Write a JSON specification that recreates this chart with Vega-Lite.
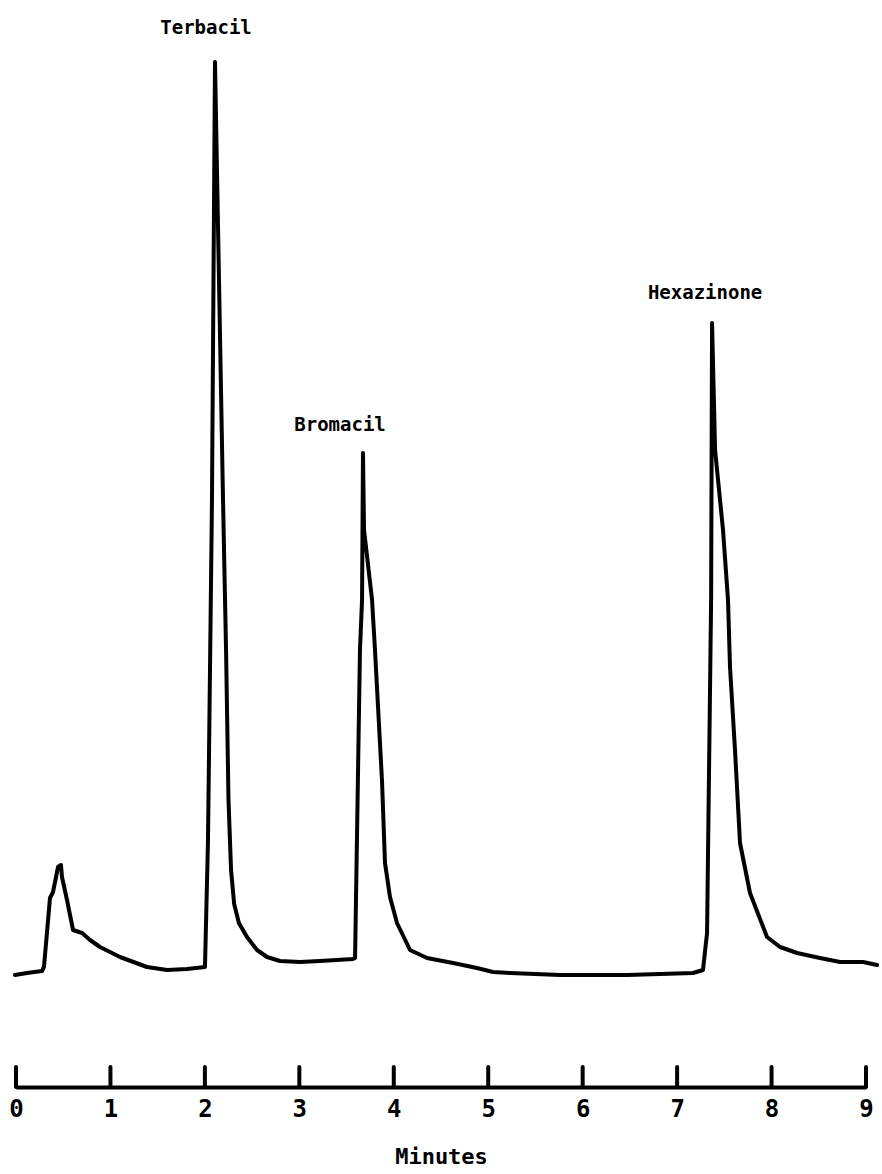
{
  "$schema": "https://vega.github.io/schema/vega-lite/v6.json",
  "width": 850,
  "height": 1087,
  "autosize": {"type": "none"},
  "padding": {"left": 16, "top": 0, "right": 16, "bottom": 87},
  "background": "white",
  "config": {"view": {"stroke": null}, "font": "DejaVu Sans Mono"},
  "datasets": {
    "trace": [
      {"i": 1, "time": -0.011, "signal": 11.2},
      {"i": 2, "time": 0.116, "signal": 11.4},
      {"i": 3, "time": 0.275, "signal": 11.6},
      {"i": 4, "time": 0.296, "signal": 12.0},
      {"i": 5, "time": 0.360, "signal": 18.9},
      {"i": 6, "time": 0.392, "signal": 19.5},
      {"i": 7, "time": 0.445, "signal": 22.0},
      {"i": 8, "time": 0.476, "signal": 22.2},
      {"i": 9, "time": 0.487, "signal": 21.0},
      {"i": 10, "time": 0.540, "signal": 18.7},
      {"i": 11, "time": 0.604, "signal": 15.7},
      {"i": 12, "time": 0.699, "signal": 15.4},
      {"i": 13, "time": 0.784, "signal": 14.7},
      {"i": 14, "time": 0.889, "signal": 14.0},
      {"i": 15, "time": 1.101, "signal": 13.0},
      {"i": 16, "time": 1.387, "signal": 12.0},
      {"i": 17, "time": 1.599, "signal": 11.7},
      {"i": 18, "time": 1.811, "signal": 11.8},
      {"i": 19, "time": 2.001, "signal": 12.0},
      {"i": 20, "time": 2.033, "signal": 24.7},
      {"i": 21, "time": 2.075, "signal": 58.7},
      {"i": 22, "time": 2.107, "signal": 102.5},
      {"i": 23, "time": 2.192, "signal": 58.7},
      {"i": 24, "time": 2.224, "signal": 43.7},
      {"i": 25, "time": 2.250, "signal": 28.7},
      {"i": 26, "time": 2.277, "signal": 21.7},
      {"i": 27, "time": 2.310, "signal": 18.3},
      {"i": 28, "time": 2.360, "signal": 16.4},
      {"i": 29, "time": 2.446, "signal": 15.0},
      {"i": 30, "time": 2.552, "signal": 13.7},
      {"i": 31, "time": 2.658, "signal": 13.0},
      {"i": 32, "time": 2.795, "signal": 12.6},
      {"i": 33, "time": 3.007, "signal": 12.5},
      {"i": 34, "time": 3.219, "signal": 12.6},
      {"i": 35, "time": 3.568, "signal": 12.8},
      {"i": 36, "time": 3.590, "signal": 12.9},
      {"i": 37, "time": 3.642, "signal": 43.7},
      {"i": 38, "time": 3.664, "signal": 48.7},
      {"i": 39, "time": 3.674, "signal": 63.4},
      {"i": 40, "time": 3.685, "signal": 55.7},
      {"i": 41, "time": 3.770, "signal": 48.7},
      {"i": 42, "time": 3.801, "signal": 43.7},
      {"i": 43, "time": 3.875, "signal": 30.7},
      {"i": 44, "time": 3.907, "signal": 22.4},
      {"i": 45, "time": 3.960, "signal": 19.0},
      {"i": 46, "time": 4.034, "signal": 16.4},
      {"i": 47, "time": 4.172, "signal": 13.7},
      {"i": 48, "time": 4.352, "signal": 12.9},
      {"i": 49, "time": 4.627, "signal": 12.4},
      {"i": 50, "time": 4.881, "signal": 11.9},
      {"i": 51, "time": 5.051, "signal": 11.5},
      {"i": 52, "time": 5.231, "signal": 11.4},
      {"i": 53, "time": 5.760, "signal": 11.2},
      {"i": 54, "time": 6.470, "signal": 11.2},
      {"i": 55, "time": 7.169, "signal": 11.4},
      {"i": 56, "time": 7.274, "signal": 11.7},
      {"i": 57, "time": 7.317, "signal": 15.4},
      {"i": 58, "time": 7.360, "signal": 48.7},
      {"i": 59, "time": 7.370, "signal": 76.4},
      {"i": 60, "time": 7.402, "signal": 63.7},
      {"i": 61, "time": 7.486, "signal": 55.7},
      {"i": 62, "time": 7.539, "signal": 48.7},
      {"i": 63, "time": 7.560, "signal": 42.0},
      {"i": 64, "time": 7.613, "signal": 33.7},
      {"i": 65, "time": 7.666, "signal": 24.4},
      {"i": 66, "time": 7.772, "signal": 19.4},
      {"i": 67, "time": 7.952, "signal": 15.0},
      {"i": 68, "time": 8.090, "signal": 14.0},
      {"i": 69, "time": 8.270, "signal": 13.4},
      {"i": 70, "time": 8.513, "signal": 12.9},
      {"i": 71, "time": 8.725, "signal": 12.5},
      {"i": 72, "time": 8.969, "signal": 12.5},
      {"i": 73, "time": 9.117, "signal": 12.2}
    ],
    "labels": [
      {"compound": "Terbacil", "time": 2.012, "signal": 105.9},
      {"compound": "Bromacil", "time": 3.431, "signal": 66.2},
      {"compound": "Hexazinone", "time": 7.296, "signal": 79.4}
    ],
    "ticks": [
      {"t": 0}, {"t": 1}, {"t": 2}, {"t": 3}, {"t": 4},
      {"t": 5}, {"t": 6}, {"t": 7}, {"t": 8}, {"t": 9}
    ]
  },
  "layer": [
    {
      "data": {"name": "trace"},
      "mark": {"type": "line", "color": "black", "strokeWidth": 4, "strokeJoin": "round", "strokeCap": "round", "clip": false},
      "encoding": {
        "x": {
          "field": "time",
          "type": "quantitative",
          "scale": {"domain": [0, 9], "nice": false, "zero": false},
          "axis": {
            "title": "Minutes",
            "values": [0, 1, 2, 3, 4, 5, 6, 7, 8, 9],
            "format": "d",
            "ticks": false,
            "grid": false,
            "domainColor": "black",
            "domainWidth": 4,
            "labelFont": "DejaVu Sans Mono",
            "labelFontSize": 24,
            "labelFontWeight": "bold",
            "labelColor": "black",
            "labelPadding": 10,
            "labelFlush": false,
            "titleFont": "DejaVu Sans Mono",
            "titleFontSize": 22,
            "titleFontWeight": "bold",
            "titleColor": "black",
            "titlePadding": 25
          }
        },
        "y": {
          "field": "signal",
          "type": "quantitative",
          "scale": {"domain": [0, 108.7], "nice": false, "zero": false},
          "axis": null
        },
        "order": {"field": "i", "type": "quantitative"}
      }
    },
    {
      "data": {"name": "ticks"},
      "mark": {"type": "rule", "color": "black", "strokeWidth": 4, "strokeCap": "round"},
      "encoding": {
        "x": {"field": "t", "type": "quantitative"},
        "y": {"datum": 0},
        "y2": {"datum": 2}
      }
    },
    {
      "data": {"name": "labels"},
      "mark": {"type": "text", "color": "black", "font": "DejaVu Sans Mono", "fontSize": 19, "fontWeight": "bold", "align": "center", "baseline": "middle"},
      "encoding": {
        "x": {"field": "time", "type": "quantitative"},
        "y": {"field": "signal", "type": "quantitative"},
        "text": {"field": "compound"}
      }
    }
  ]
}
